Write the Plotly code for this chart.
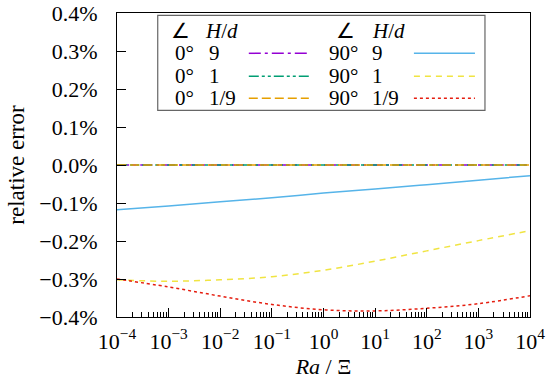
import plotly.graph_objects as go

# ---- data (values in percent) ----
ra = [1e-4, 1e-3, 1e-2, 1e-1, 1e0, 1e1, 1e2, 1e3, 1e4]
err_0_9 = [0.0] * 9
err_0_1 = [0.0] * 9
err_0_19 = [0.0] * 9
err_90_9 = [-0.118, -0.108, -0.097, -0.086, -0.074, -0.063, -0.052, -0.040, -0.028]
err_90_1 = [-0.302, -0.306, -0.302, -0.294, -0.277, -0.253, -0.226, -0.199, -0.173]
err_90_19 = [-0.300, -0.321, -0.345, -0.367, -0.381, -0.384, -0.377, -0.365, -0.344]

y_ticks = [0.4, 0.3, 0.2, 0.1, 0.0, -0.1, -0.2, -0.3, -0.4]
y_tick_text = ["0.4%", "0.3%", "0.2%", "0.1%", "0.0%", "\u22120.1%", "\u22120.2%", "\u22120.3%", "\u22120.4%"]
x_ticks = [1e-4, 1e-3, 1e-2, 1e-1, 1e0, 1e1, 1e2, 1e3, 1e4]
x_tick_text = ["10<sup>\u22124</sup>", "10<sup>\u22123</sup>", "10<sup>\u22122</sup>", "10<sup>\u22121</sup>",
               "10<sup>0</sup>", "10<sup>1</sup>", "10<sup>2</sup>", "10<sup>3</sup>", "10<sup>4</sup>"]
x_minor = [m * 10.0 ** e for e in range(-4, 4) for m in range(2, 10)]

series = [
    ("0\u00b0", "9", err_0_9, "#9400d3", "12px,4px,3px,4px"),
    ("0\u00b0", "1", err_0_1, "#009e73", "10px,3px,3px,3px,3px,3px"),
    ("0\u00b0", "1/9", err_0_19, "#e69f00", "9px,4px"),
    ("90\u00b0", "9", err_90_9, "#56b4e9", "solid"),
    ("90\u00b0", "1", err_90_1, "#f0e442", "6px,5px"),
    ("90\u00b0", "1/9", err_90_19, "#e51e10", "3px,3px"),
]

FONT = "Liberation Serif"
W, H = 550, 388
L, T = 117.3, 12.7
R = W - 530
B = H - 316.7
PW, PH = W - L - R, H - T - B


def px(x):  # page pixel -> paper
    return (x - L) / PW


def py(y):
    return (H - B - y) / PH


fig = go.Figure()
for ang, hd, vals, col, dash in series:
    fig.add_trace(go.Scatter(x=ra, y=vals, mode="lines", showlegend=False,
                             line=dict(color=col, width=1.5, dash=dash, shape="spline")))

# legend box (manual, gnuplot style)
fig.add_shape(type="rect", xref="paper", yref="paper",
              x0=px(158), x1=px(485), y0=py(110), y1=py(15),
              line=dict(color="#666666", width=1.2), fillcolor="white", layer="above")

def txt(x, y, s, size=21):
    fig.add_annotation(xref="paper", yref="paper", x=px(x), y=py(y), text=s,
                       showarrow=False, xanchor="left", yanchor="middle", height=18,
                       borderpad=0,
                       font=dict(family=FONT, size=size, color="black"))

for cx, hx in [(170, 204), (335, 371)]:
    txt(cx, 31, "\u2220")
    txt(hx, 31, "<i>H</i>/<i>d</i>")

rows_y = [53, 76, 98]
for i, (ang, hd, vals, col, dash) in enumerate(series):
    c = i // 3
    r = i % 3
    ax = 174 if c == 0 else 328
    hx = 208 if c == 0 else 371
    lx0, lx1 = (249, 309) if c == 0 else (414, 475)
    txt(ax, rows_y[r], ang)
    txt(hx, rows_y[r], hd)
    fig.add_shape(type="line", xref="paper", yref="paper",
                  x0=px(lx0), x1=px(lx1), y0=py(rows_y[r]), y1=py(rows_y[r]),
                  line=dict(color=col, width=1.5, dash=dash), layer="above")

fig.update_layout(
    width=W, height=H,
    margin=dict(l=L, r=R, t=T, b=B, autoexpand=False),
    paper_bgcolor="white", plot_bgcolor="white",
    font=dict(family=FONT, size=22, color="black"),
    xaxis=dict(type="log", range=[-4, 4], tickmode="array", tickvals=x_ticks, ticktext=x_tick_text,
               ticks="inside", ticklen=9, tickwidth=1, tickcolor="black", automargin=False,
               tickfont=dict(family=FONT, size=22), ticklabeloverflow="allow",
               minor=dict(tickvals=x_minor, ticks="inside", ticklen=5, tickwidth=1, tickcolor="black"),
               showgrid=False, zeroline=False, showline=True, linecolor="black", linewidth=1.2,
               mirror=True, ticklabelstandoff=4,
               title=dict(text="<i>Ra</i> / \u039e", font=dict(family=FONT, size=22), standoff=6)),
    yaxis=dict(range=[-0.4, 0.4], tickmode="array", tickvals=y_ticks, ticktext=y_tick_text,
               ticks="inside", ticklen=9, tickwidth=1, tickcolor="black", automargin=False,
               tickfont=dict(family=FONT, size=22), ticklabeloverflow="allow",
               showgrid=False, zeroline=False, showline=True, linecolor="black", linewidth=1.2,
               mirror=True, ticklabelstandoff=14,
               title=dict(text="relative error", font=dict(family=FONT, size=23), standoff=8)),
)

fig.write_html("out.html", config={"displayModeBar": False},
               post_script="document.body.style.margin='0';")
